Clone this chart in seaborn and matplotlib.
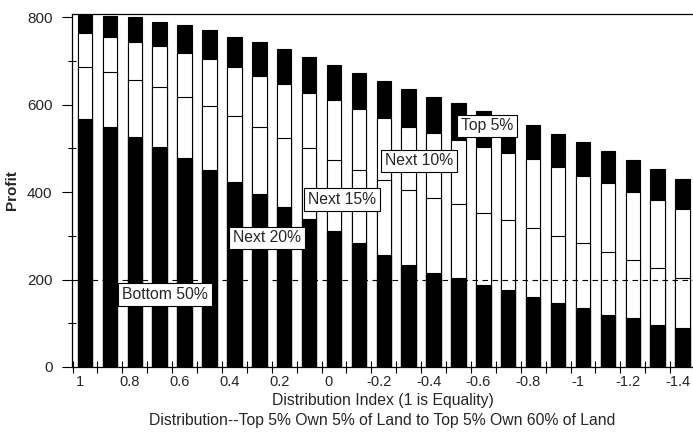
import numpy as np
import pandas as pd
import matplotlib
matplotlib.use("Agg")
import matplotlib.pyplot as plt
import matplotlib.transforms as mtransforms
import seaborn as sns
from matplotlib.ticker import FixedLocator

# ---------------- data ----------------
dist_index = ["1", "0.9", "0.8", "0.7", "0.6", "0.5", "0.4", "0.3", "0.2", "0.1",
              "0", "-0.1", "-0.2", "-0.3", "-0.4", "-0.5", "-0.6", "-0.7", "-0.8",
              "-0.9", "-1", "-1.1", "-1.2", "-1.3", "-1.4"]
bottom50 = [566, 548, 526, 504, 477, 450, 423, 395, 366, 338, 311, 283, 256,
            233, 214, 203, 187, 176, 161, 146, 136, 120, 111, 96, 89]
next20 = [119, 126, 129, 135, 141, 147, 151, 154, 157, 163, 162, 167, 171,
          172, 172, 170, 164, 160, 156, 153, 147, 144, 134, 131, 115]
next15 = [78, 80, 89, 94, 100, 106, 111, 116, 124, 126, 137, 139, 143,
          144, 148, 146, 153, 154, 158, 159, 154, 157, 156, 155, 157]
top_seg = [45, 48, 55, 56, 64, 67, 70, 79, 79, 81, 80, 82, 84,
           86, 84, 84, 81, 79, 78, 75, 78, 73, 72, 71, 69]
tick_labels = ["1", "0.8", "0.6", "0.4", "0.2", "0", "-0.2", "-0.4", "-0.6",
               "-0.8", "-1", "-1.2", "-1.4"]
seg_labels = ["Bottom 50%", "Next 20%", "Next 15%", "Next 10%", "Top 5%"]

df = pd.DataFrame({"idx": dist_index})
df["c1"] = np.array(bottom50)
df["c2"] = df["c1"] + np.array(next20)
df["c3"] = df["c2"] + np.array(next15)
df["c4"] = df["c3"] + np.array(top_seg)

# ---------------- style ----------------
sns.set_style("white")
plt.rcParams["font.family"] = ["Liberation Sans", "DejaVu Sans"]

fig = plt.figure(figsize=(6.93, 4.33), dpi=100)
W, H = 693, 433
ax = fig.add_axes([72 / W, (H - 367) / H, (W - 72) / W, (367 - 14) / H])

layers = [("c4", "black"), ("c3", "white"), ("c2", "white"), ("c1", "black")]
for col, colr in layers:
    sns.barplot(data=df, x="idx", y=col, order=dist_index, color=colr,
                saturation=1, width=0.58, edgecolor="black", linewidth=0.8,
                ax=ax, zorder=2)

ax.axhline(200, color="black", lw=0.8, linestyle=(0, (5, 4)), zorder=3)

# label boxes
label_pos = [(3.21, 165), (7.31, 295), (10.32, 382), (13.41, 471), (16.14, 551)]
for lab, (x, y) in zip(seg_labels, label_pos):
    ax.text(x, y, lab, ha="center", va="center", fontsize=11.3, zorder=5,
            bbox=dict(boxstyle="square,pad=0.25", fc="white", ec="black", lw=0.8))

ax.set_xlim(-0.522, 24.42)
ax.set_ylim(0, 807)

# x ticks
ax.set_xticks(range(0, 25, 2))
ax.set_xticklabels(tick_labels, fontsize=10.5)
ax.xaxis.set_minor_locator(FixedLocator(np.arange(-0.5, 25, 1.0)))
ax.tick_params(axis="x", which="major", length=0, pad=6)
ax.tick_params(axis="x", which="minor", direction="inout", length=8, width=0.8,
               color="black", bottom=True)
shift = mtransforms.ScaledTranslation(-5 / 100, 0, fig.dpi_scale_trans)
for lbl in ax.get_xticklabels():
    lbl.set_transform(lbl.get_transform() + shift)

# y ticks
ax.set_yticks([0, 200, 400, 600, 800])
ax.set_yticklabels(["0", "200", "400", "600", "800"], fontsize=11)
ax.yaxis.set_minor_locator(FixedLocator([100, 300, 500, 700]))
ax.tick_params(axis="y", which="major", direction="out", length=7, width=0.8,
               color="black", pad=7, left=True)
ax.tick_params(axis="y", which="minor", direction="inout", length=6, width=0.8,
               color="black", left=True)

ax.set_xlabel("")
ax.set_ylabel("Profit", fontsize=11, fontweight="bold")
ax.yaxis.set_label_coords(-0.085, 0.5)

for s in ["left", "top", "bottom"]:
    ax.spines[s].set_visible(True)
    ax.spines[s].set_color("black")
    ax.spines[s].set_linewidth(0.9)
ax.spines["right"].set_visible(False)
ax.grid(False)

cx = (72 + 693) / 2 / W
fig.text(cx, 1 - 400 / H, "Distribution Index (1 is Equality)", ha="center",
         va="center", fontsize=11.3)
fig.text(cx, 1 - 420 / H,
         "Distribution--Top 5% Own 5% of Land to Top 5% Own 60% of Land",
         ha="center", va="center", fontsize=11.3)

fig.savefig("out.png", dpi=100)
